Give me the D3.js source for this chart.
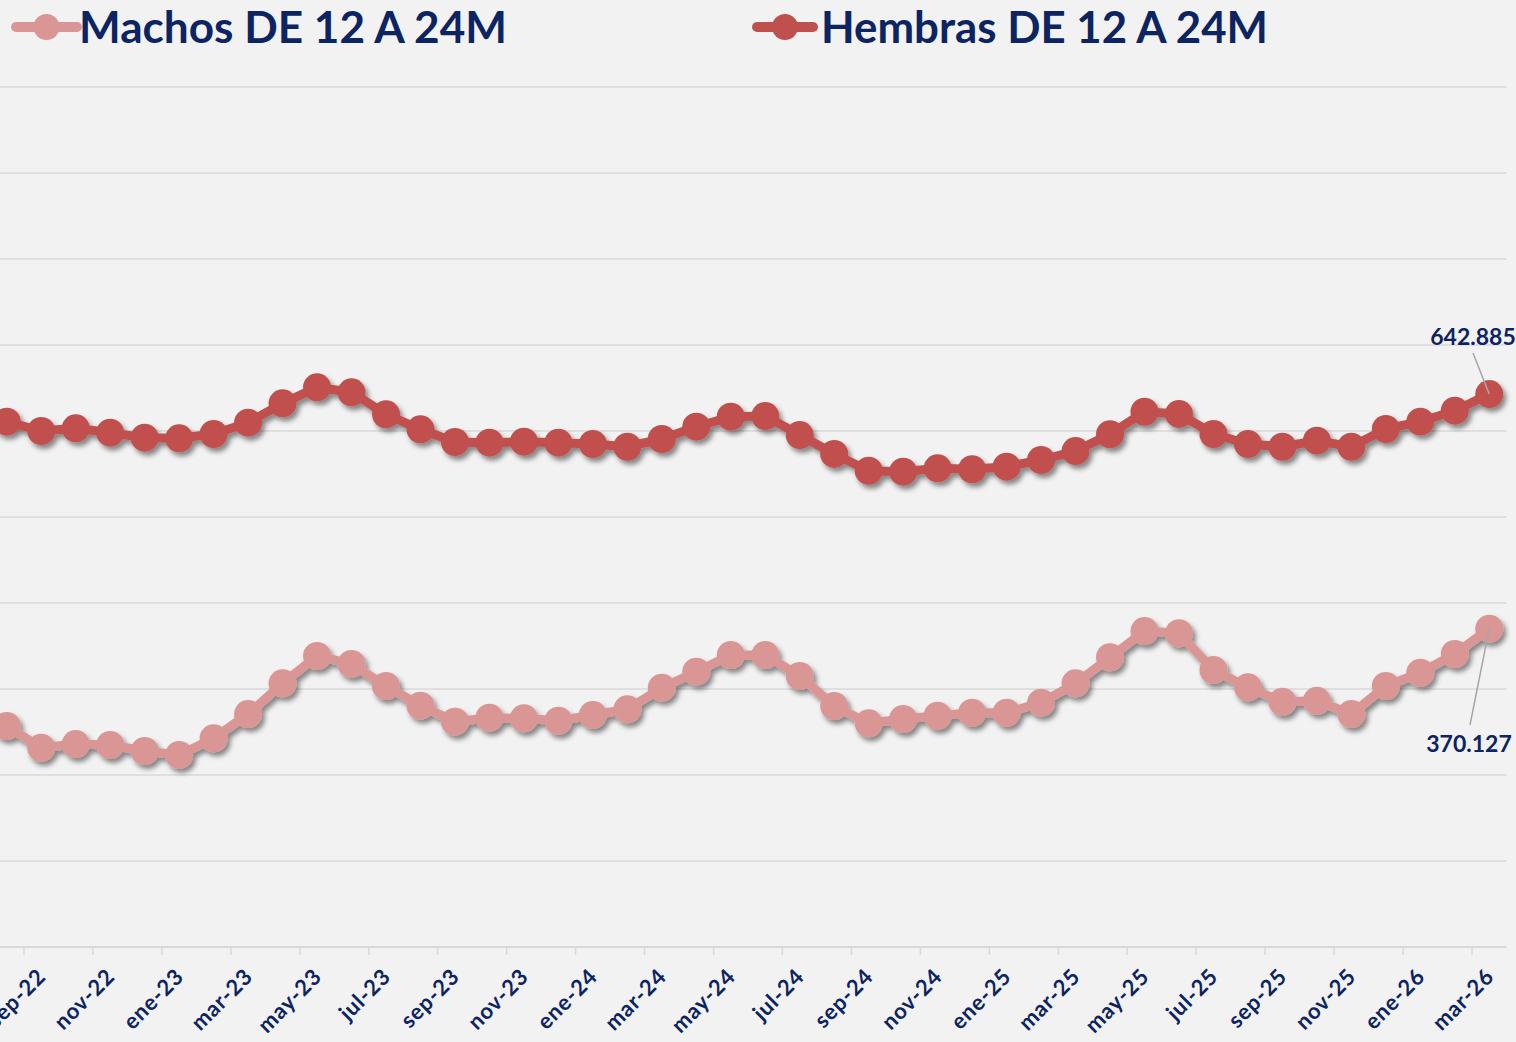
<!DOCTYPE html>
<html>
<head>
<meta charset="utf-8">
<script src="https://cdn.jsdelivr.net/npm/d3@7"></script>
<style>
  body { margin: 0; background: #f2f2f2; }
  svg { display: block; }
  text { font-family: Lato, "DejaVu Sans", sans-serif; font-weight: bold; fill: #0c2461; }
</style>
</head>
<body>
<script>
var width = 1516,
    height = 1042;

// months on the category axis (first one is cut by the left edge)
var months = ["ago-22", "sep-22", "oct-22", "nov-22", "dic-22",
  "ene-23", "feb-23", "mar-23", "abr-23", "may-23", "jun-23", "jul-23", "ago-23", "sep-23", "oct-23", "nov-23", "dic-23",
  "ene-24", "feb-24", "mar-24", "abr-24", "may-24", "jun-24", "jul-24", "ago-24", "sep-24", "oct-24", "nov-24", "dic-24",
  "ene-25", "feb-25", "mar-25", "abr-25", "may-25", "jun-25", "jul-25", "ago-25", "sep-25", "oct-25", "nov-25", "dic-25",
  "ene-26", "feb-26", "mar-26"];

var machos = [257000, 231700, 236000, 234900, 227900, 223300, 242700, 270900, 306600, 338400,
  329100, 303500, 280600, 262000, 266600, 265900, 263100, 269800, 276400, 301500,
  320100, 339500, 339500, 315100, 280200, 260100, 265100, 268900, 272400, 272400,
  284100, 306600, 336900, 367400, 364800, 322100, 302000, 285200, 286300, 270900,
  303500, 318900, 340700, 370127];

var hembras = [610800, 600000, 603100, 598000, 592200, 591500, 596500, 609700, 632200, 650800,
  645000, 619400, 602000, 587200, 586400, 587600, 586400, 584900, 581700, 590700,
  605000, 616600, 617400, 595300, 573300, 553800, 552700, 556600, 555500, 558500,
  566300, 576700, 596200, 622400, 619800, 596500, 584900, 581700, 588700, 581700,
  602300, 610800, 623600, 642885];

var tickLabels = ["sep-22", "nov-22", "ene-23", "mar-23", "may-23", "jul-23", "sep-23", "nov-23",
  "ene-24", "mar-24", "may-24", "jul-24", "sep-24", "nov-24", "ene-25", "mar-25",
  "may-25", "jul-25", "sep-25", "nov-25", "ene-26", "mar-26"];

var gridValues = [100000, 200000, 300000, 400000, 500000, 600000, 700000, 800000, 900000, 1000000];

var seriesNames = ["Machos DE 12 A 24M", "Hembras DE 12 A 24M"];
var seriesColors = ["#d99694", "#c0504d"];

var es = d3.formatLocale({ decimal: ",", thousands: ".", grouping: [3], currency: ["", "€"] });
var fmt = es.format(",d");

var svg = d3.select("body").append("svg")
    .attr("width", width)
    .attr("height", height);

var defs = svg.append("defs");
var shadow = defs.append("filter").attr("id", "shadow")
    .attr("x", "-10%").attr("y", "-10%").attr("width", "120%").attr("height", "130%");
shadow.append("feDropShadow")
    .attr("dx", 3).attr("dy", 4).attr("stdDeviation", 2.5)
    .attr("flood-color", "#000").attr("flood-opacity", 0.45);

var x = d3.scaleBand()
    .domain(months)
    .range([-10.5, 1506.5])
    .padding(0);

var y = d3.scaleLinear()
    .domain([0, 1000000])
    .range([947, 87]);

function cx(m) { return x(m) + x.bandwidth() / 2; }

// gridlines
svg.append("g").attr("class", "grid")
  .selectAll("line")
  .data(gridValues)
  .enter().append("line")
    .attr("x1", 0)
    .attr("x2", x.range()[1])
    .attr("y1", d => y(d))
    .attr("y2", d => y(d))
    .style("stroke", "#d9d9d9")
    .style("stroke-width", 1.5);

// category axis
var axis = svg.append("g").attr("class", "axis");
axis.append("line")
    .attr("x1", 0).attr("x2", x.range()[1])
    .attr("y1", y(0)).attr("y2", y(0))
    .style("stroke", "#d9d9d9")
    .style("stroke-width", 2);

axis.selectAll("line.tick")
  .data(tickLabels)
  .enter().append("line")
    .attr("class", "tick")
    .attr("x1", d => x(d)).attr("x2", d => x(d))
    .attr("y1", y(0)).attr("y2", y(0) + 8)
    .style("stroke", "#d9d9d9")
    .style("stroke-width", 1.5);

axis.selectAll("text")
  .data(tickLabels)
  .enter().append("text")
    .attr("transform", d => "translate(" + (cx(d) + 6) + "," + (y(0) + 31) + ") rotate(-45)")
    .attr("text-anchor", "end")
    .style("font-size", "22px")
    .style("letter-spacing", "0.8px")
    .text(d => d);

// series
var series = [
  { name: seriesNames[0], color: seriesColors[0], values: machos },
  { name: seriesNames[1], color: seriesColors[1], values: hembras }
];

var line = d3.line()
    .x((d, i) => cx(months[i]))
    .y(d => y(d));

var plot = svg.append("g").attr("class", "plot");

series.forEach(function(s) {
  var g = plot.append("g").attr("filter", "url(#shadow)");
  g.append("path")
    .datum(s.values)
    .attr("d", line)
    .style("fill", "none")
    .style("stroke", s.color)
    .style("stroke-width", 9)
    .style("stroke-linejoin", "round");
  g.selectAll("circle")
    .data(s.values)
    .enter().append("circle")
      .attr("cx", (d, i) => cx(months[i]))
      .attr("cy", d => y(d))
      .attr("r", 14)
      .style("fill", s.color);
});

// data labels on the last point
var last = months.length - 1;
var labels = [
  { value: hembras[last], lx: 1473, ly: 345, from: [1473, 353] },
  { value: machos[last], lx: 1469, ly: 752, from: [1470, 725] }
];
labels.forEach(function(l) {
  svg.append("line")
    .attr("x1", l.from[0]).attr("y1", l.from[1])
    .attr("x2", cx(months[last])).attr("y2", y(l.value))
    .style("stroke", "#a6a6a6")
    .style("stroke-width", 1.5);
  svg.append("text")
    .attr("x", l.lx).attr("y", l.ly)
    .attr("text-anchor", "middle")
    .style("font-size", "23px")
    .text(fmt(l.value));
});

// legend
var legendPos = [
  { lx1: 16, lx2: 77, tx: 79, tw: 428 },
  { lx1: 757, lx2: 813, tx: 821, tw: 447 }
];
var legend = svg.append("g").attr("class", "legend");
series.forEach(function(s, i) {
  var p = legendPos[i];
  legend.append("line")
    .attr("x1", p.lx1).attr("x2", p.lx2)
    .attr("y1", 27).attr("y2", 27)
    .style("stroke", s.color)
    .style("stroke-width", 10)
    .style("stroke-linecap", "round");
  legend.append("circle")
    .attr("cx", (p.lx1 + p.lx2) / 2)
    .attr("cy", 27)
    .attr("r", 13)
    .style("fill", s.color);
  legend.append("text")
    .attr("x", p.tx)
    .attr("y", 43)
    .attr("textLength", p.tw)
    .attr("lengthAdjust", "spacingAndGlyphs")
    .style("font-size", "44px")
    .text(s.name);
});
</script>
</body>
</html>
